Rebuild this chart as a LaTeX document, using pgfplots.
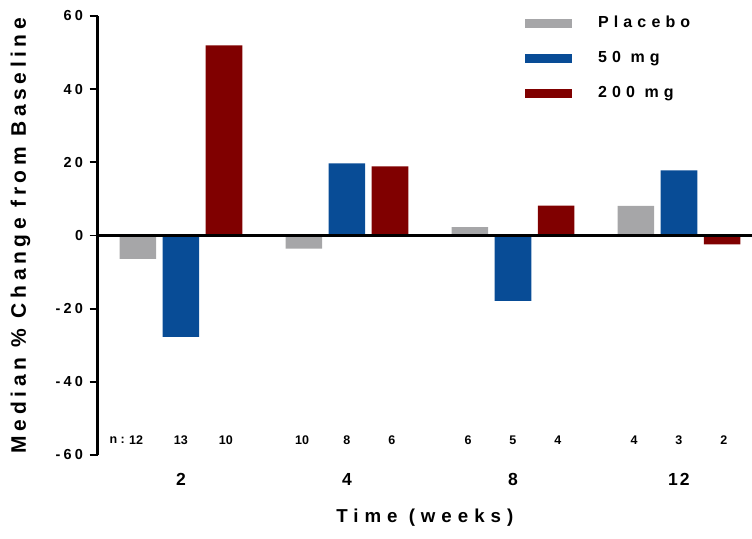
\documentclass[border=0pt]{standalone}
\usepackage{fontspec}
\setmainfont{Liberation Sans}
\newfontfamily\lsA[LetterSpace=22]{Liberation Sans}
\newfontfamily\lsB[LetterSpace=32]{Liberation Sans}
\newfontfamily\lsC[LetterSpace=12]{Liberation Sans}
\usepackage{pgfplots}
\pgfplotsset{compat=1.18}
\definecolor{cplac}{RGB}{166,166,168}
\definecolor{cfifty}{RGB}{8,76,150}
\definecolor{ctwo}{RGB}{128,0,0}
\begin{document}
\begin{tikzpicture}
\path[use as bounding box] (-97.6pt,-83pt) rectangle (654.4pt,455pt);
\begin{axis}[
  scale only axis, width=654.4pt, height=439pt,
  xmin=-0.502, xmax=3.44, ymin=-60, ymax=60,
  axis y line*=left, axis x line*=bottom,
  x axis line style={draw=none},
  y axis line style={line width=2.2pt, black},
  ytick={-60,-40,...,60},
  xtick={0,1,2,3}, xticklabels={2,4,8,12},
  x tick style={draw=none},
  y tick style={line width=1.8pt, black},
  tick align=outside, major tick length=8pt,
  /pgf/number format/assume math mode=true,
  yticklabel style={font=\lsA\bfseries\fontsize{14.5}{14.5}\selectfont, xshift=-3pt},
  xticklabel style={font=\lsC\bfseries\fontsize{17.5}{17.5}\selectfont, anchor=center, yshift=-16pt},
  ylabel={Median \% Change from Baseline},
  xlabel={Time (weeks)},
  every axis y label/.style={at={(axis description cs:0,0.5)}, xshift=-77pt, rotate=90, anchor=center, font=\lsA\bfseries\fontsize{21}{21}\selectfont},
  every axis x label/.style={at={(axis description cs:0.5,0)}, yshift=-63pt, anchor=center, font=\lsB\bfseries\fontsize{18.7}{18.7}\selectfont},
  ybar=6.5pt, bar width=36.6pt,
  legend style={draw=none, fill=none, at={(axis description cs:0.653,1)}, anchor=north west,
    font=\lsB\bfseries\fontsize{16}{16}\selectfont, row sep=19.8pt, inner sep=0pt,
    nodes={inner sep=0pt, text height=11.7pt, text depth=3.5pt, anchor=west}},
  legend cell align=left,
  legend image code/.code={\fill[#1, draw=none] (0pt,-4.5pt) rectangle (47pt,4.5pt); \path[draw=none, fill=none] (0pt,-0.1pt) rectangle (73pt,0.1pt);},
]
\addplot[fill=cplac, draw=none] coordinates {(0,-6.4) (1,-3.6) (2,2.3) (3,8.1)};
\addlegendentry{Placebo}
\addplot[fill=cfifty, draw=none] coordinates {(0,-27.7) (1,19.7) (2,-17.9) (3,17.8)};
\addlegendentry{50 mg}
\addplot[fill=ctwo, draw=none] coordinates {(0,52.0) (1,18.9) (2,8.2) (3,-2.4)};
\addlegendentry{200 mg}
\addplot[black, line width=3pt, sharp plot, forget plot] coordinates {(-0.502,0) (3.44,0)};
\begin{scope}[every node/.style={font=\bfseries\fontsize{12.5}{12.5}\selectfont, anchor=center}]
\node at (axis cs:-0.27,-56) {12};
\node[anchor=east, inner xsep=0pt, xshift=-11pt] at (axis cs:-0.27,-56) {n\hspace{3.5pt}:};
\node at (axis cs:0,-56) {13};
\node at (axis cs:0.27,-56) {10};
\node at (axis cs:0.73,-56) {10};
\node at (axis cs:1,-56) {8};
\node at (axis cs:1.27,-56) {6};
\node at (axis cs:1.73,-56) {6};
\node at (axis cs:2,-56) {5};
\node at (axis cs:2.27,-56) {4};
\node at (axis cs:2.73,-56) {4};
\node at (axis cs:3,-56) {3};
\node at (axis cs:3.27,-56) {2};
\end{scope}
\end{axis}
\end{tikzpicture}
\end{document}
